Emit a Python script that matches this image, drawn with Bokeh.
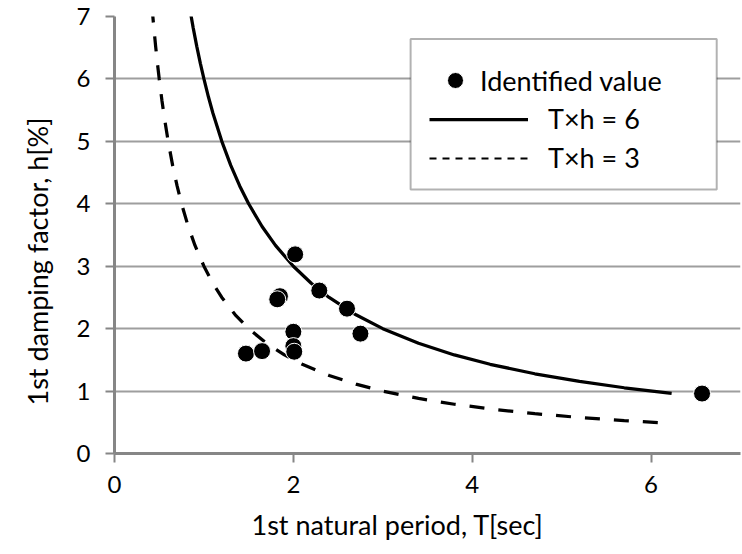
from bokeh.plotting import figure
from bokeh.models import (Range1d, FixedTicker, Legend, LegendItem, BoxAnnotation, Title)
from bokeh.embed import file_html
from bokeh.resources import INLINE

# Identified values (1st natural period T [sec], 1st damping factor h [%])
period_T = [2.02, 1.85, 1.82, 2.29, 2.60, 2.75, 2.00, 2.00, 2.01, 1.47, 1.65, 6.57]
damping_h = [3.19, 2.52, 2.47, 2.61, 2.32, 1.92, 1.95, 1.72, 1.63, 1.60, 1.64, 0.96]

# Curve T x h = 6
curve6_T = [0.84, 0.88, 0.92, 0.96, 1.0, 1.05, 1.1, 1.2, 1.3, 1.4, 1.5, 1.65, 1.8, 2.0,
            2.2, 2.4, 2.7, 3.0, 3.4, 3.8, 4.2, 4.7, 5.2, 5.7, 6.23]
curve6_h = [7.143, 6.818, 6.522, 6.25, 6.0, 5.714, 5.455, 5.0, 4.615, 4.286, 4.0, 3.636,
            3.333, 3.0, 2.727, 2.5, 2.222, 2.0, 1.765, 1.579, 1.429, 1.277, 1.154, 1.053, 0.963]

# Curve T x h = 3
curve3_T = [0.42, 0.44, 0.46, 0.48, 0.5, 0.53, 0.56, 0.6, 0.65, 0.7, 0.75, 0.82, 0.9, 1.0,
            1.1, 1.2, 1.35, 1.5, 1.7, 1.9, 2.1, 2.4, 2.7, 3.0, 3.4, 3.8, 4.2, 4.7, 5.2, 5.7, 6.23]
curve3_h = [7.143, 6.818, 6.522, 6.25, 6.0, 5.660, 5.357, 5.0, 4.615, 4.286, 4.0, 3.659,
            3.333, 3.0, 2.727, 2.5, 2.222, 2.0, 1.765, 1.579, 1.429, 1.25, 1.111, 1.0,
            0.882, 0.789, 0.714, 0.638, 0.577, 0.526, 0.482]

x_ticks = [0, 2, 4, 6]
y_ticks = [0, 1, 2, 3, 4, 5, 6, 7]

label_points = "Identified value"
label_6 = "T×h = 6"
label_3 = "T×h = 3"
x_title = "1st natural period, T[sec]"
y_title = "1st damping factor, h[%]"

FONT = "Lato"
FS_TICK = "24px"
FS_TITLE = "27px"
FS_LEG = "27px"
AXIS_COLOR = "#868686"
GRID_COLOR = "#9E9E9E"

p = figure(width=742, height=554, output_backend="svg", toolbar_location=None,
           x_range=Range1d(0, 7), y_range=Range1d(0, 7),
           min_border_left=114, min_border_right=2, min_border_top=16, min_border_bottom=101)
p.outline_line_color = None
p.background_fill_color = "white"
p.border_fill_color = "white"

p.xgrid.visible = False
p.ygrid.grid_line_color = GRID_COLOR
p.ygrid.grid_line_width = 2
p.ygrid.ticker = FixedTicker(ticks=y_ticks)

p.xaxis.ticker = FixedTicker(ticks=x_ticks)
p.yaxis.ticker = FixedTicker(ticks=y_ticks)
for ax in (p.xaxis[0], p.yaxis[0]):
    ax.axis_line_color = AXIS_COLOR
    ax.axis_line_width = 3
    ax.major_tick_line_color = AXIS_COLOR
    ax.major_tick_line_width = 2
    ax.major_tick_in = 0
    ax.major_tick_out = 9
    ax.minor_tick_line_color = None
    ax.major_label_text_font = FONT
    ax.major_label_text_font_size = FS_TICK
    ax.major_label_text_color = "black"
p.yaxis.major_label_standoff = 15
p.xaxis.major_label_standoff = 13

# axis titles, placed like the reference (offset from the frame centre)
p.add_layout(Title(text=x_title, align="left", offset=137, vertical_align="top", standoff=24,
                   text_font=FONT, text_font_size=FS_TITLE, text_font_style="normal",
                   text_color="black"), "below")
p.add_layout(Title(text=y_title, align="left", offset=48, vertical_align="top", standoff=36,
                   text_font=FONT, text_font_size=FS_TITLE, text_font_style="normal",
                   text_color="black"), "left")

# curves
r6 = p.line(curve6_T, curve6_h, line_color="black", line_width=3.25)
r3 = p.line(curve3_T, curve3_h, line_color="black", line_width=3.25, line_dash="15 14")
# points
rp = p.scatter(period_T, damping_h, size=17, fill_color="black", line_color="white", line_width=1)

# legend-only sample of the dashed line (finer dash as in the original key)
nan = float("nan")
r3_key = p.line(x=[nan], y=[nan], line_color="black", line_width=2, line_dash="7 6")

# legend frame
p.add_layout(BoxAnnotation(left=3.311, right=6.734, bottom=4.229, top=6.64,
                           fill_color="white", fill_alpha=1.0,
                           line_color="black", line_width=2))

leg_a = Legend(items=[LegendItem(label=label_points, renderers=[rp])],
               location=(321, 353), padding=0, margin=0, spacing=0,
               glyph_width=40, glyph_height=40, label_height=40, label_standoff=5,
               label_text_font=FONT, label_text_font_size=FS_LEG, label_text_color="black",
               border_line_color=None, background_fill_alpha=0)
leg_b = Legend(items=[LegendItem(label=label_6, renderers=[r6]),
                      LegendItem(label=label_3, renderers=[r3_key])],
               location=(315, 279), padding=0, margin=0, spacing=6,
               glyph_width=99, glyph_height=32, label_height=32, label_standoff=20,
               label_text_font=FONT, label_text_font_size=FS_LEG, label_text_color="black",
               border_line_color=None, background_fill_alpha=0)
p.add_layout(leg_a)
p.add_layout(leg_b)

open("out.html", "w").write(file_html(p, INLINE))
